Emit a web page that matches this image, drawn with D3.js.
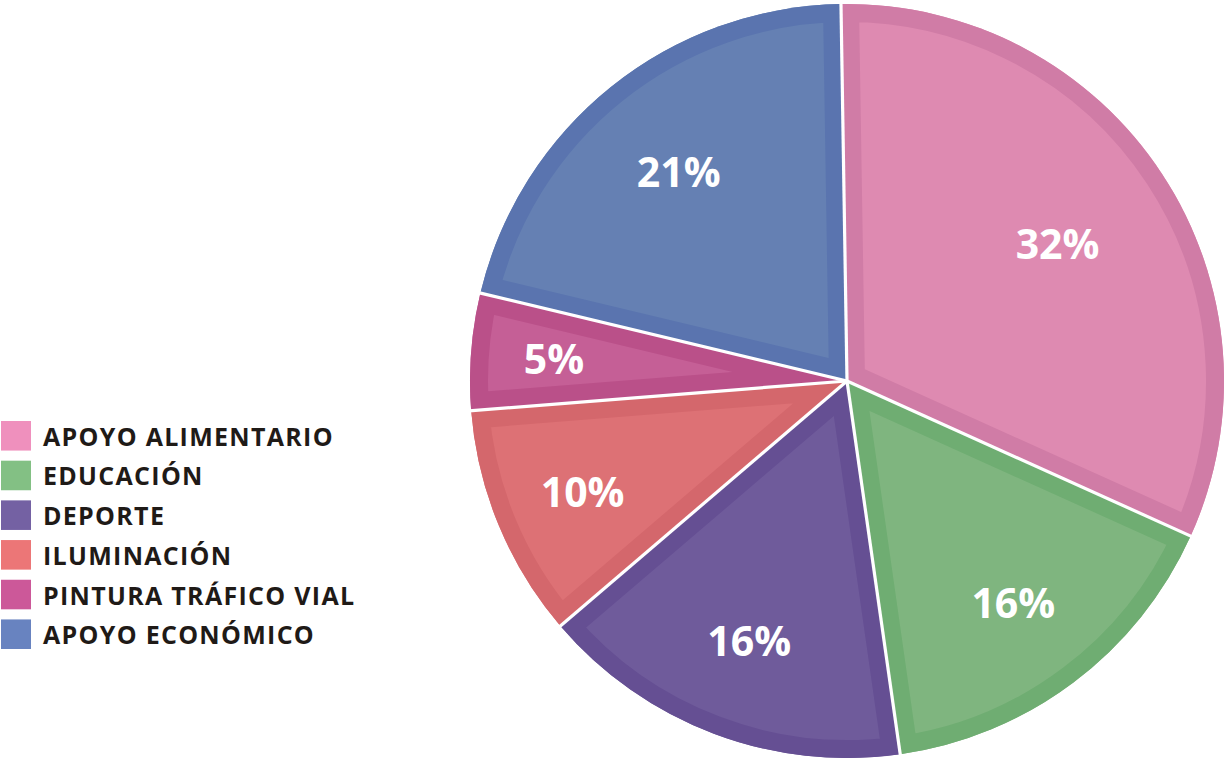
<!DOCTYPE html>
<html>
<head>
<meta charset="utf-8">
<script src="https://cdn.jsdelivr.net/npm/d3@7"></script>
<style>
  html, body { margin: 0; padding: 0; background: #ffffff; }
  svg { display: block; }
</style>
</head>
<body>
<svg id="chart" width="1225" height="762"></svg>
<script>
// ---- data ----
const categories = ["APOYO ALIMENTARIO", "EDUCACIÓN", "DEPORTE", "ILUMINACIÓN", "PINTURA TRÁFICO VIAL", "APOYO ECONÓMICO"];
const values = [32, 16, 16, 10, 5, 21];
const valueLabels = ["32%", "16%", "16%", "10%", "5%", "21%"];
const fillColors = ["#de8ab1", "#7fb57f", "#6f5b9b", "#dd7175", "#c55f96", "#6580b3"];
const rimColors = ["#d07ca6", "#6fad72", "#654f93", "#d4676c", "#ba5089", "#5a74af"];
const legendColors = ["#ef90bd", "#83c084", "#7461a3", "#ec7677", "#cc5899", "#6883c0"];

// ---- layout ----
const svg = d3.select("#chart");
const cx = 847, cy = 381, R = 377;
const rim = 18;
const startAngle = -0.016;

const pie = d3.pie().sort(null).value(d => d)
  .startAngle(startAngle).endAngle(startAngle + 2 * Math.PI);
const arcs = pie(values);
const arc = d3.arc().innerRadius(0).outerRadius(R);

const defs = svg.append("defs");
const g = svg.append("g").attr("transform", `translate(${cx},${cy})`);

arcs.forEach((a, i) => {
  defs.append("clipPath").attr("id", "clip" + i)
    .append("path").attr("d", arc(a));
});

const slices = g.selectAll("g.slice").data(arcs).join("g").attr("class", "slice");
slices.append("path")
  .attr("d", d => arc(d))
  .attr("fill", (d, i) => fillColors[i]);
slices.append("path")
  .attr("d", d => arc(d))
  .attr("fill", "none")
  .attr("stroke", (d, i) => rimColors[i])
  .attr("stroke-width", rim * 2)
  .attr("stroke-linejoin", "miter")
  .attr("clip-path", (d, i) => `url(#clip${i})`);

// white separators
g.selectAll("line.sep").data(arcs).join("line")
  .attr("class", "sep")
  .attr("x1", 0).attr("y1", 0)
  .attr("x2", d => (R + 2) * Math.sin(d.startAngle))
  .attr("y2", d => -(R + 2) * Math.cos(d.startAngle))
  .attr("stroke", "#ffffff")
  .attr("stroke-width", 3.2);

// value labels: narrower slices get their label pushed further out
const labelRadius = d3.scaleLinear().domain([5, 32]).range([294, 252]);
function labelPos(d) {
  const r = labelRadius(d.value);
  return d3.arc().innerRadius(r).outerRadius(r).centroid(d);
}
g.selectAll("text.val").data(arcs).join("text")
  .attr("class", "val")
  .attr("x", d => labelPos(d)[0])
  .attr("y", d => labelPos(d)[1])
  .attr("text-anchor", "middle")
  .attr("dominant-baseline", "central")
  .attr("fill", "#ffffff")
  .attr("font-family", "'Open Sans', sans-serif")
  .attr("font-weight", 700)
  .attr("font-size", 41)
  .text((d, i) => valueLabels[i]);

// legend
const legendY = d3.scaleBand().domain(categories).range([421, 649]).paddingInner(0.255).paddingOuter(0);
const legend = svg.append("g");
const items = legend.selectAll("g").data(categories).join("g")
  .attr("transform", d => `translate(1,${legendY(d)})`);
items.append("rect")
  .attr("width", 30).attr("height", legendY.bandwidth())
  .attr("fill", (d, i) => legendColors[i]);
items.append("text")
  .attr("x", 42).attr("y", legendY.bandwidth() / 2)
  .attr("dominant-baseline", "central")
  .attr("fill", "#1f1a17")
  .attr("font-family", "'Open Sans', sans-serif")
  .attr("font-weight", 700)
  .attr("font-size", 25)
  .attr("letter-spacing", 1.3)
  .text(d => d);
</script>
</body>
</html>
